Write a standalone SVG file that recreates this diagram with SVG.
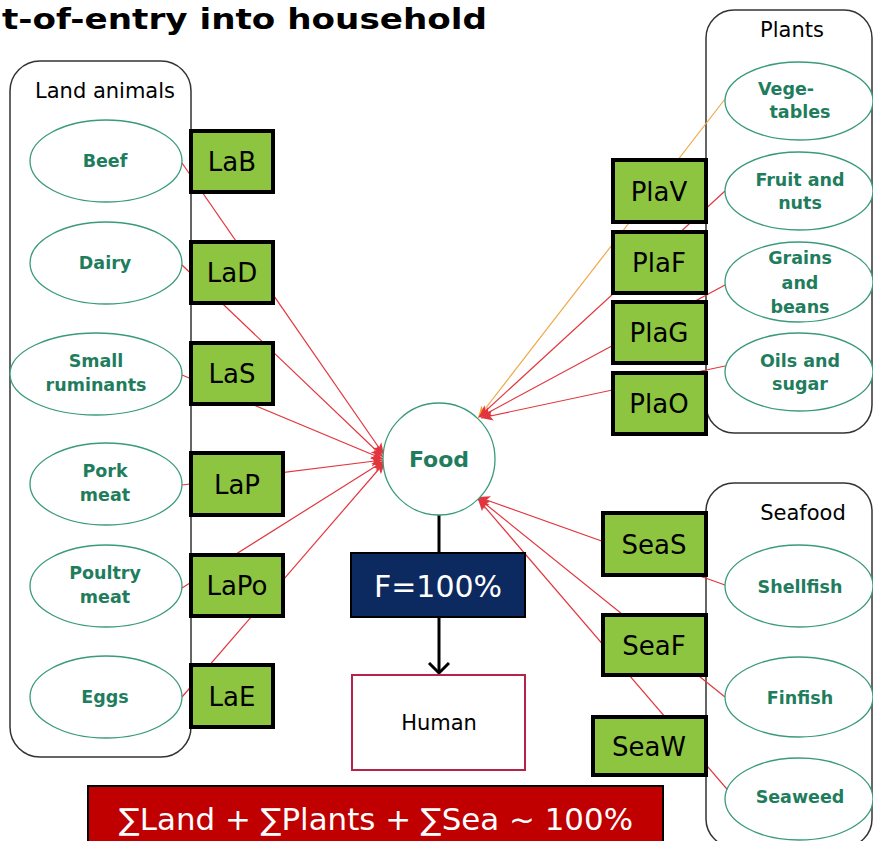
<svg xmlns="http://www.w3.org/2000/svg" width="873" height="841" viewBox="0 0 873 841">
<style>
.panel{fill:#fff;stroke:#333;stroke-width:1.5}
.ell{fill:#fff;stroke:#3a9a7c;stroke-width:1.3}
.el{font-family:"DejaVu Sans",Verdana,sans-serif;font-weight:bold;font-size:17.5px;fill:#1f7d5e;text-anchor:middle}
.pt{font-family:"DejaVu Sans",Verdana,sans-serif;font-size:21px;fill:#000;text-anchor:middle}
.box{fill:#8dc540;stroke:#000;stroke-width:4}
.bt{font-family:"DejaVu Sans",Verdana,sans-serif;font-size:26px;fill:#000;text-anchor:middle}
.con{fill:none;stroke:#e2363e;stroke-width:1.2;marker-end:url(#ar)}
.conO{fill:none;stroke:#f0a848;stroke-width:1.2;marker-end:url(#ao)}
</style>
<defs>
<marker id="ar" markerUnits="userSpaceOnUse" markerWidth="14" markerHeight="12" refX="12" refY="5" orient="auto" viewBox="0 0 14 10">
<path d="M0,0 L12,5 L0,10 L3,5 Z" fill="#e2363e"/>
</marker>
<marker id="ao" markerUnits="userSpaceOnUse" markerWidth="14" markerHeight="12" refX="12" refY="5" orient="auto" viewBox="0 0 14 10">
<path d="M0,0 L12,5 L0,10 L3,5 Z" fill="#f0a030"/>
</marker>
<marker id="ab" markerUnits="userSpaceOnUse" markerWidth="24" markerHeight="24" refX="11" refY="11" orient="auto" viewBox="0 0 24 24">
<path d="M1,1 L11,11 L1,21" fill="none" stroke="#000" stroke-width="3"/>
</marker>
</defs>
<rect width="873" height="841" fill="#fff"/>
<text x="2" y="29" font-family="'DejaVu Sans',Verdana,sans-serif" font-weight="bold" font-size="29" textLength="485" lengthAdjust="spacingAndGlyphs">t-of-entry into household</text>

<g id="panels">
<rect id="land-panel" class="panel" x="10" y="61" width="181" height="696" rx="30"/>
<text class="pt" x="105" y="98">Land animals</text>
<rect id="plants-panel" class="panel" x="706" y="10" width="166" height="423" rx="28"/>
<text class="pt" x="792" y="37">Plants</text>
<rect id="sea-panel" class="panel" x="706" y="483" width="166" height="364" rx="28"/>
<text class="pt" x="803" y="520">Seafood</text>
</g>

<g id="connectors">
<line class="con" x1="182" y1="163" x2="384" y2="455"/>
<line class="con" x1="182" y1="265" x2="383" y2="457"/>
<line class="con" x1="182" y1="375" x2="383" y2="459"/>
<line class="con" x1="182" y1="485" x2="383" y2="460"/>
<line class="con" x1="182" y1="588" x2="384" y2="461"/>
<line class="con" x1="182" y1="697" x2="385" y2="462"/>
<line class="conO" x1="725" y1="99" x2="478" y2="418"/>
<line class="con" x1="725" y1="191" x2="479" y2="417"/>
<line class="con" x1="725" y1="285" x2="480" y2="417"/>
<line class="con" x1="725" y1="366" x2="481" y2="418"/>
<line class="con" x1="725" y1="585" x2="478" y2="497"/>
<line class="con" x1="725" y1="697" x2="478" y2="498"/>
<line class="con" x1="732" y1="795" x2="478" y2="499"/>
<line x1="439" y1="515" x2="439" y2="553" stroke="#000" stroke-width="3"/>
<line x1="439" y1="617" x2="439" y2="673" stroke="#000" stroke-width="3" marker-end="url(#ab)"/>
</g>

<g id="beef"><ellipse class="ell" cx="106" cy="161" rx="76" ry="41"/><text class="el" x="105" y="167">Beef</text></g>
<g id="dairy"><ellipse class="ell" cx="106" cy="263" rx="76" ry="41"/><text class="el" x="105" y="269">Dairy</text></g>
<g id="small-ruminants"><ellipse class="ell" cx="96" cy="374" rx="86" ry="41"/><text class="el" x="96" y="367">Small</text><text class="el" x="96" y="391">ruminants</text></g>
<g id="pork"><ellipse class="ell" cx="106" cy="484" rx="76" ry="41"/><text class="el" x="105" y="477">Pork</text><text class="el" x="105" y="501">meat</text></g>
<g id="poultry"><ellipse class="ell" cx="106" cy="586" rx="76" ry="41"/><text class="el" x="105" y="579">Poultry</text><text class="el" x="105" y="603">meat</text></g>
<g id="eggs"><ellipse class="ell" cx="106" cy="697" rx="76" ry="41"/><text class="el" x="105" y="703">Eggs</text></g>

<g id="vegetables"><ellipse class="ell" cx="799" cy="101" rx="74" ry="39"/><text class="el" x="786" y="95">Vege-</text><text class="el" x="800" y="118">tables</text></g>
<g id="fruit"><ellipse class="ell" cx="799" cy="191" rx="74" ry="39"/><text class="el" x="800" y="186">Fruit and</text><text class="el" x="800" y="209">nuts</text></g>
<g id="grains"><ellipse class="ell" cx="799" cy="282" rx="74" ry="40"/><text class="el" x="800" y="264">Grains</text><text class="el" x="800" y="289">and</text><text class="el" x="800" y="313">beans</text></g>
<g id="oils"><ellipse class="ell" cx="799" cy="372" rx="74" ry="39"/><text class="el" x="800" y="367">Oils and</text><text class="el" x="800" y="390">sugar</text></g>

<g id="shellfish"><ellipse class="ell" cx="799" cy="586" rx="74" ry="41"/><text class="el" x="800" y="593">Shellfish</text></g>
<g id="finfish"><ellipse class="ell" cx="799" cy="697" rx="74" ry="40"/><text class="el" x="800" y="704">Finfish</text></g>
<g id="seaweed"><ellipse class="ell" cx="799" cy="799" rx="74" ry="41"/><text class="el" x="800" y="803">Seaweed</text></g>

<g id="LaB"><rect class="box" x="191" y="131" width="82" height="61"/><text class="bt" x="232" y="171">LaB</text></g>
<g id="LaD"><rect class="box" x="191" y="242" width="82" height="61"/><text class="bt" x="232" y="282">LaD</text></g>
<g id="LaS"><rect class="box" x="191" y="343" width="82" height="61"/><text class="bt" x="232" y="383">LaS</text></g>
<g id="LaP"><rect class="box" x="191" y="453" width="92" height="62"/><text class="bt" x="237" y="494">LaP</text></g>
<g id="LaPo"><rect class="box" x="191" y="555" width="92" height="61"/><text class="bt" x="237" y="595">LaPo</text></g>
<g id="LaE"><rect class="box" x="191" y="665" width="82" height="62"/><text class="bt" x="232" y="706">LaE</text></g>

<g id="PlaV"><rect class="box" x="613" y="160" width="93" height="62"/><text class="bt" x="659" y="201">PlaV</text></g>
<g id="PlaF"><rect class="box" x="613" y="232" width="93" height="61"/><text class="bt" x="659" y="272">PlaF</text></g>
<g id="PlaG"><rect class="box" x="613" y="302" width="93" height="61"/><text class="bt" x="659" y="342">PlaG</text></g>
<g id="PlaO"><rect class="box" x="613" y="373" width="93" height="61"/><text class="bt" x="659" y="413">PlaO</text></g>

<g id="SeaS"><rect class="box" x="603" y="513" width="103" height="62"/><text class="bt" x="654" y="554">SeaS</text></g>
<g id="SeaF"><rect class="box" x="603" y="615" width="103" height="60"/><text class="bt" x="654" y="655">SeaF</text></g>
<g id="SeaW"><rect class="box" x="593" y="717" width="113" height="58"/><text class="bt" x="649" y="756">SeaW</text></g>

<g id="food"><circle cx="439" cy="459" r="56" fill="#fff" stroke="#3a9a7c" stroke-width="1.3"/><text x="439" y="467" font-family="'DejaVu Sans',Verdana,sans-serif" font-weight="bold" font-size="22" fill="#1f7d5e" text-anchor="middle">Food</text></g>
<g id="factor"><rect x="351" y="553" width="174" height="64" fill="#0c2a60" stroke="#000" stroke-width="2"/><text x="438" y="597" font-family="'DejaVu Sans',Verdana,sans-serif" font-size="30" fill="#fff" text-anchor="middle">F=100%</text></g>
<g id="human"><rect x="352" y="675" width="173" height="95" fill="#fff" stroke="#b5234a" stroke-width="2"/><text x="439" y="730" font-family="'DejaVu Sans',Verdana,sans-serif" font-size="21" fill="#000" text-anchor="middle">Human</text></g>
<g id="sum"><rect x="88" y="786" width="575" height="62" fill="#c00000" stroke="#000" stroke-width="2"/><text x="376" y="830" font-family="'DejaVu Sans',Verdana,sans-serif" font-size="30" fill="#fff" text-anchor="middle" textLength="514" lengthAdjust="spacingAndGlyphs">∑Land + ∑Plants + ∑Sea ~ 100%</text></g>
</svg>
